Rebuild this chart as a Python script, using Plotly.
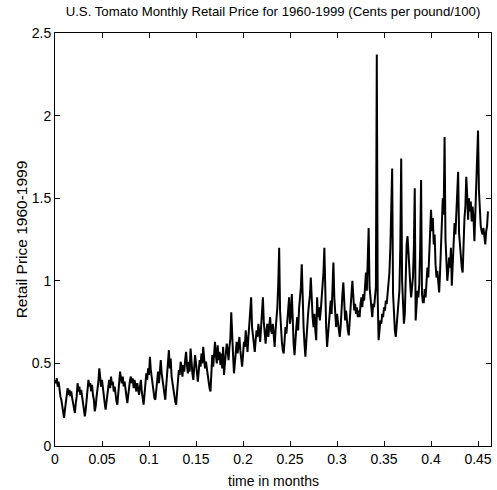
import plotly.graph_objects as go

# Monthly retail price, 1960-1999 (40 years x 12 months), cents per pound / 100
y1960s = [
    [0.40, 0.38, 0.41, 0.36, 0.39, 0.33, 0.30, 0.28, 0.24, 0.20, 0.17, 0.22],
    [0.26, 0.32, 0.35, 0.31, 0.34, 0.30, 0.33, 0.29, 0.25, 0.22, 0.20, 0.26],
    [0.30, 0.38, 0.33, 0.36, 0.31, 0.34, 0.30, 0.27, 0.23, 0.18, 0.22, 0.28],
    [0.33, 0.40, 0.36, 0.38, 0.33, 0.37, 0.31, 0.28, 0.21, 0.24, 0.30, 0.34],
    [0.39, 0.47, 0.38, 0.36, 0.40, 0.34, 0.30, 0.26, 0.22, 0.28, 0.33, 0.36],
    [0.40, 0.35, 0.42, 0.37, 0.39, 0.33, 0.36, 0.30, 0.27, 0.25, 0.31, 0.38],
    [0.45, 0.41, 0.38, 0.42, 0.36, 0.39, 0.33, 0.30, 0.26, 0.32, 0.36, 0.40],
    [0.42, 0.38, 0.41, 0.35, 0.40, 0.36, 0.33, 0.38, 0.34, 0.31, 0.36, 0.40],
    [0.33, 0.27, 0.25, 0.31, 0.38, 0.44, 0.40, 0.47, 0.43, 0.54, 0.46, 0.41],
    [0.37, 0.33, 0.29, 0.28, 0.34, 0.41, 0.45, 0.38, 0.48, 0.52, 0.44, 0.40],
]
y1970s = [
    [0.35, 0.31, 0.28, 0.36, 0.44, 0.50, 0.58, 0.47, 0.53, 0.42, 0.38, 0.33],
    [0.30, 0.27, 0.25, 0.32, 0.39, 0.46, 0.43, 0.51, 0.48, 0.42, 0.49, 0.45],
    [0.52, 0.57, 0.49, 0.44, 0.51, 0.45, 0.59, 0.48, 0.44, 0.40, 0.46, 0.55],
    [0.50, 0.44, 0.39, 0.45, 0.52, 0.48, 0.56, 0.50, 0.60, 0.53, 0.47, 0.51],
    [0.46, 0.41, 0.37, 0.35, 0.33, 0.42, 0.55, 0.48, 0.58, 0.63, 0.55, 0.50],
    [0.61, 0.52, 0.57, 0.49, 0.56, 0.47, 0.60, 0.43, 0.50, 0.55, 0.62, 0.58],
    [0.52, 0.60, 0.65, 0.81, 0.62, 0.55, 0.44, 0.50, 0.58, 0.63, 0.56, 0.60],
    [0.66, 0.58, 0.52, 0.48, 0.55, 0.63, 0.60, 0.70, 0.64, 0.57, 0.66, 0.75],
    [0.82, 0.90, 0.72, 0.68, 0.62, 0.57, 0.64, 0.70, 0.66, 0.74, 0.69, 0.63],
    [0.72, 0.80, 0.90, 0.75, 0.68, 0.62, 0.70, 0.74, 0.66, 0.72, 0.78, 0.70],
]
y1980s = [
    [0.68, 0.74, 0.65, 0.60, 0.70, 0.76, 0.84, 0.98, 1.20, 0.82, 0.66, 0.63],
    [0.58, 0.56, 0.64, 0.72, 0.68, 0.77, 0.82, 0.90, 0.74, 0.80, 0.92, 0.70],
    [0.62, 0.55, 0.66, 0.72, 0.78, 0.70, 0.83, 0.88, 0.96, 1.10, 0.85, 0.72],
    [0.62, 0.54, 0.63, 0.74, 0.80, 0.86, 0.91, 1.02, 0.88, 0.78, 0.72, 0.80],
    [0.70, 0.64, 0.90, 0.78, 0.84, 0.76, 0.82, 0.88, 0.98, 1.05, 1.20, 0.86],
    [0.72, 0.60, 0.68, 0.75, 0.82, 0.88, 0.80, 0.95, 1.11, 0.90, 0.78, 0.72],
    [0.80, 0.74, 0.70, 0.66, 0.72, 0.86, 0.92, 0.99, 0.85, 0.76, 0.82, 0.74],
    [0.70, 0.67, 0.78, 0.86, 0.92, 1.00, 0.88, 0.82, 0.86, 0.80, 0.84, 0.78],
    [0.82, 0.78, 0.86, 0.90, 0.84, 0.92, 0.88, 0.96, 1.05, 0.94, 1.12, 1.32],
    [0.96, 0.88, 0.82, 0.78, 0.86, 0.84, 0.90, 0.96, 2.37, 0.90, 0.64, 0.72],
]
y1990s = [
    [0.76, 0.74, 0.80, 0.78, 0.84, 0.82, 0.88, 0.86, 0.92, 1.00, 1.05, 1.20],
    [1.40, 1.68, 0.92, 0.76, 0.70, 0.66, 0.72, 0.80, 0.86, 0.94, 1.20, 1.74],
    [1.00, 0.84, 0.74, 0.80, 1.10, 1.22, 1.27, 1.20, 1.08, 0.98, 0.90, 0.96],
    [1.02, 1.20, 1.56, 0.76, 0.86, 0.94, 0.90, 0.98, 1.20, 1.61, 0.92, 0.87],
    [0.87, 0.95, 0.90, 1.00, 1.08, 1.02, 1.15, 1.25, 1.43, 1.30, 1.38, 1.22],
    [1.28, 1.10, 1.02, 1.06, 0.98, 0.93, 1.05, 1.18, 1.30, 1.50, 1.40, 1.87],
    [1.25, 1.12, 1.00, 1.06, 1.14, 1.08, 1.20, 0.97, 1.10, 1.20, 1.35, 1.28],
    [1.40, 1.50, 1.66, 1.29, 1.20, 1.12, 1.08, 1.05, 1.25, 1.38, 1.45, 1.63],
    [1.52, 1.37, 1.50, 1.42, 1.48, 1.36, 1.45, 1.38, 1.24, 1.40, 1.52, 1.70],
    [1.91, 1.55, 1.40, 1.33, 1.30, 1.28, 1.32, 1.26, 1.22, 1.30, 1.33, 1.42],
]

x_ticks = [0, 0.05, 0.1, 0.15, 0.2, 0.25, 0.3, 0.35, 0.4, 0.45]
x_tick_labels = ["0", "0.05", "0.1", "0.15", "0.2", "0.25", "0.3", "0.35", "0.4", "0.45"]
y_ticks = [0, 0.5, 1, 1.5, 2, 2.5]
y_tick_labels = ["0", "0.5", "1", "1.5", "2", "2.5"]

prices = [v for decade in (y1960s, y1970s, y1980s, y1990s) for row in decade for v in row]
n = len(prices)
MONTH_SCALE = 1040.0  # time axis unit used by the original figure
t = [i / MONTH_SCALE for i in range(n)]

FAM = "Liberation Sans, Arial, sans-serif"
tick_font = dict(family=FAM, size=14, color="black")
xlab_font = dict(family=FAM, size=14, color="black")
ylab_font = dict(family=FAM, size=15.5, color="black")

fig = go.Figure(
    go.Scatter(x=t, y=prices, mode="lines", line=dict(color="black", width=2),
               showlegend=False, hoverinfo="skip")
)

axis_common = dict(
    showgrid=False, zeroline=False, showline=True, linecolor="black", linewidth=1,
    mirror="ticks", ticks="inside", ticklen=5, tickwidth=1, tickcolor="black",
    tickfont=tick_font,
)

fig.update_layout(
    width=497, height=490,
    margin=dict(l=55, r=6, t=33, b=44),
    paper_bgcolor="white", plot_bgcolor="white",
    font=tick_font,
    title=dict(text="U.S. Tomato Monthly Retail Price for 1960-1999 (Cents per pound/100)",
               x=0.5, xref="paper", y=1, yref="container", yanchor="top", pad=dict(t=7),
               font=dict(family=FAM, size=13.2, color="black")),
    xaxis=dict(range=[0, 0.4638], tickvals=x_ticks, ticktext=x_tick_labels,
               automargin=False, **axis_common),
    yaxis=dict(range=[0, 2.5], tickvals=y_ticks, ticktext=y_tick_labels,
               automargin=False,
               title=dict(text="Retail Price 1960-1999", standoff=0, font=ylab_font), **axis_common),
    annotations=[
        dict(text="time in months", x=0.5, xref="paper", y=0, yref="paper",
             xanchor="center", yanchor="middle", yshift=-35, showarrow=False, font=xlab_font)
    ],
)

fig.write_html("out.html")
